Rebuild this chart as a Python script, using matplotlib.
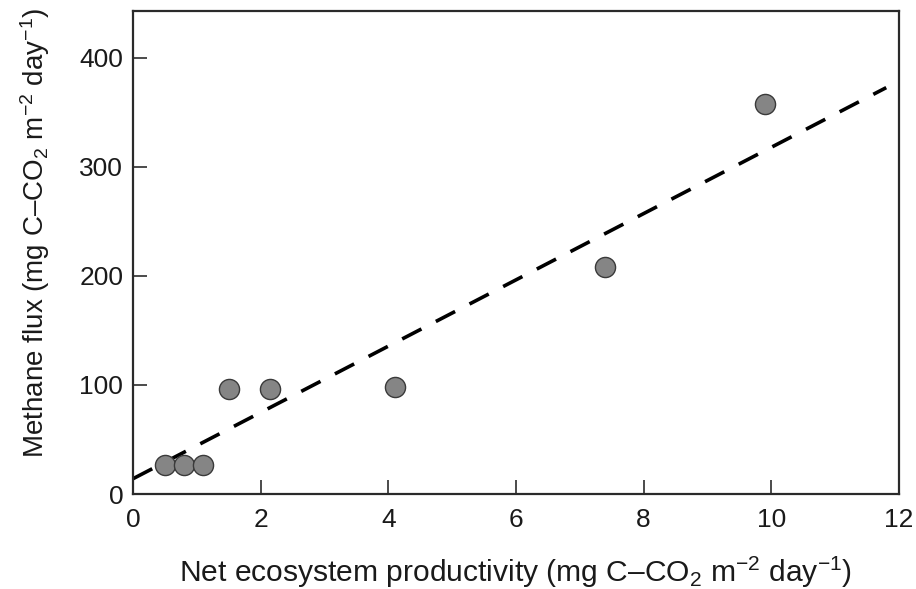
import matplotlib
matplotlib.use("Agg")
import matplotlib.pyplot as plt
import numpy as np

# Data
nep = [0.5, 0.8, 1.1, 1.5, 2.15, 4.1, 7.4, 9.9]
methane = [27, 27, 27, 96, 96, 98, 208, 358]
fit_intercept = 14.0
fit_slope = 30.4
fit_xrange = [0.0, 11.8]
xticks = [0, 2, 4, 6, 8, 10, 12]
yticks = [0, 100, 200, 300, 400]

plt.rcParams['font.family'] = ['Liberation Sans', 'DejaVu Sans']
plt.rcParams['mathtext.fontset'] = 'custom'
plt.rcParams['mathtext.rm'] = 'Liberation Sans'
plt.rcParams['mathtext.it'] = 'Liberation Sans:italic'
plt.rcParams['mathtext.bf'] = 'Liberation Sans:bold'

fig = plt.figure(figsize=(9.16, 5.89), dpi=100)
ax = fig.add_axes([133/916, 1 - 494/589, (899-133)/916, (494-11)/589])

fx = np.array(fit_xrange)
ax.plot(fx, fit_intercept + fit_slope * fx, color='black', linewidth=2.6,
        dashes=(6, 4.5), zorder=2)
ax.scatter(nep, methane, s=14.5**2, color='#858585', edgecolors='#3a3a3a',
           linewidths=1.0, zorder=3)

ax.set_xlim(0, 12)
ax.set_ylim(0, 443)
ax.set_xticks(xticks)
ax.set_yticks(yticks)
ax.tick_params(direction='in', length=10, width=1.1, labelsize=19,
               colors='#1a1a1a')
ax.tick_params(axis='x', pad=10)
ax.tick_params(axis='y', pad=7)
for s in ax.spines.values():
    s.set_linewidth(1.6)
    s.set_color('#2a2a2a')

ax.set_xlabel('Net ecosystem productivity (mg C\u2013CO$_\\mathrm{2}$ m$^{\\mathrm{-2}}$ day$^{\\mathrm{-1}}$)',
              fontsize=21.6, color='#1a1a1a')
ax.set_ylabel('Methane flux (mg C\u2013CO$_\\mathrm{2}$ m$^{\\mathrm{-2}}$ day$^{\\mathrm{-1}}$)',
              fontsize=20, color='#1a1a1a')
ax.xaxis.set_label_coords(0.5, -0.125)
ax.yaxis.set_label_coords(-0.106, 0.54)

fig.savefig('out.png', dpi=100)
